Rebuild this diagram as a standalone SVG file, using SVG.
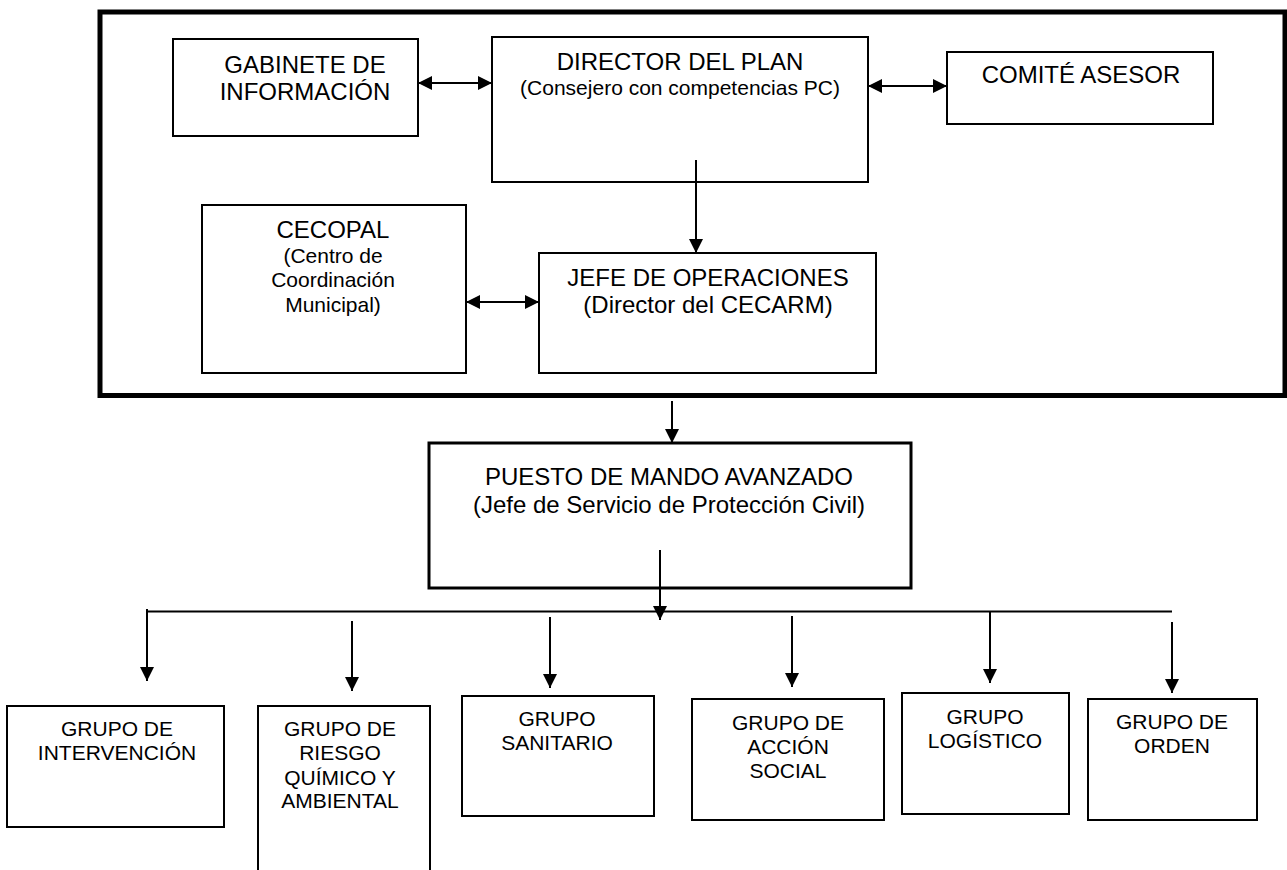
<svg xmlns="http://www.w3.org/2000/svg" width="1287" height="870" viewBox="0 0 1287 870">
<style>
.box{fill:#fff;stroke:#000;stroke-width:2}
.thick{stroke-width:3}
.frame{fill:none;stroke:#000;stroke-width:5}
.t{font-family:"Liberation Sans",Arial,sans-serif;font-size:24px;fill:#000;text-anchor:middle}
.s{font-size:21px}
.c line{stroke:#000;stroke-width:2}
.a{marker-end:url(#ah)}
.d{marker-start:url(#ah);marker-end:url(#ah)}
</style>
<defs>
<marker id="ah" markerUnits="userSpaceOnUse" markerWidth="15" markerHeight="14" refX="14" refY="7" orient="auto-start-reverse" viewBox="0 0 15 14">
<path d="M0,0 L14,7 L0,14 z" fill="#000"/>
</marker>
</defs>
<rect width="1287" height="870" fill="#fff"/>
<rect class="frame" x="100" y="12" width="1185" height="383.5"/>

<g id="gabinete"><rect class="box" x="173" y="39" width="245" height="97"/>
<text class="t" x="305" y="73">GABINETE DE</text><text class="t" x="305" y="100">INFORMACIÓN</text></g>

<g id="director"><rect class="box" x="492" y="37" width="376" height="145"/>
<text class="t" x="680" y="70">DIRECTOR DEL PLAN</text><text class="t s" x="680" y="95">(Consejero con competencias PC)</text></g>

<g id="comite"><rect class="box" x="947" y="52" width="266" height="72"/>
<text class="t" x="1081" y="83">COMITÉ ASESOR</text></g>

<g id="cecopal"><rect class="box" x="202" y="205" width="264" height="168"/>
<text class="t" x="333" y="238">CECOPAL</text>
<text class="t s" x="333" y="263">(Centro de</text>
<text class="t s" x="333" y="287">Coordinación</text>
<text class="t s" x="333" y="312">Municipal)</text></g>

<g id="jefe"><rect class="box" x="539" y="253" width="337" height="120"/>
<text class="t" x="708" y="286">JEFE DE OPERACIONES</text><text class="t" x="708" y="313">(Director del CECARM)</text></g>

<g id="puesto"><rect class="box thick" x="429" y="443" width="482" height="145"/>
<text class="t" x="669" y="485">PUESTO DE MANDO AVANZADO</text><text class="t" x="669" y="513">(Jefe de Servicio de Protección Civil)</text></g>

<g id="intervencion"><rect class="box" x="7" y="706" width="217" height="121"/>
<text class="t s" x="117" y="736">GRUPO DE</text><text class="t s" x="117" y="760">INTERVENCIÓN</text></g>

<g id="riesgo"><rect class="box" x="258" y="706" width="172" height="180"/>
<text class="t s" x="340" y="736">GRUPO DE</text><text class="t s" x="340" y="760">RIESGO</text>
<text class="t s" x="340" y="785">QUÍMICO Y</text><text class="t s" x="340" y="808">AMBIENTAL</text></g>

<g id="sanitario"><rect class="box" x="462" y="696" width="192" height="120"/>
<text class="t s" x="557" y="726">GRUPO</text><text class="t s" x="557" y="750">SANITARIO</text></g>

<g id="accion"><rect class="box" x="692" y="699" width="192" height="121"/>
<text class="t s" x="788" y="730">GRUPO DE</text><text class="t s" x="788" y="754">ACCIÓN</text><text class="t s" x="788" y="778">SOCIAL</text></g>

<g id="logistico"><rect class="box" x="902" y="693" width="167" height="121"/>
<text class="t s" x="985" y="724">GRUPO</text><text class="t s" x="985" y="748">LOGÍSTICO</text></g>

<g id="orden"><rect class="box" x="1088" y="699" width="169" height="121"/>
<text class="t s" x="1172" y="729">GRUPO DE</text><text class="t s" x="1172" y="753">ORDEN</text></g>

<g id="connectors" class="c">
<line class="d" x1="418" y1="83" x2="492" y2="83"/>
<line class="d" x1="868" y1="86" x2="947" y2="86"/>
<line class="d" x1="466" y1="302" x2="539" y2="302"/>
<line class="a" x1="696" y1="160" x2="696" y2="253"/>
<line class="a" x1="672" y1="401" x2="672" y2="443"/>
<line class="a" x1="660" y1="550" x2="660" y2="620"/>
<line x1="147" y1="611.5" x2="1172" y2="611.5"/>
<line class="a" x1="147" y1="609" x2="147" y2="681"/>
<line class="a" x1="352" y1="621" x2="352" y2="691"/>
<line class="a" x1="550" y1="617" x2="550" y2="688"/>
<line class="a" x1="792" y1="616" x2="792" y2="687"/>
<line class="a" x1="990" y1="611" x2="990" y2="683"/>
<line class="a" x1="1172" y1="622" x2="1172" y2="693"/>
</g>
</svg>
